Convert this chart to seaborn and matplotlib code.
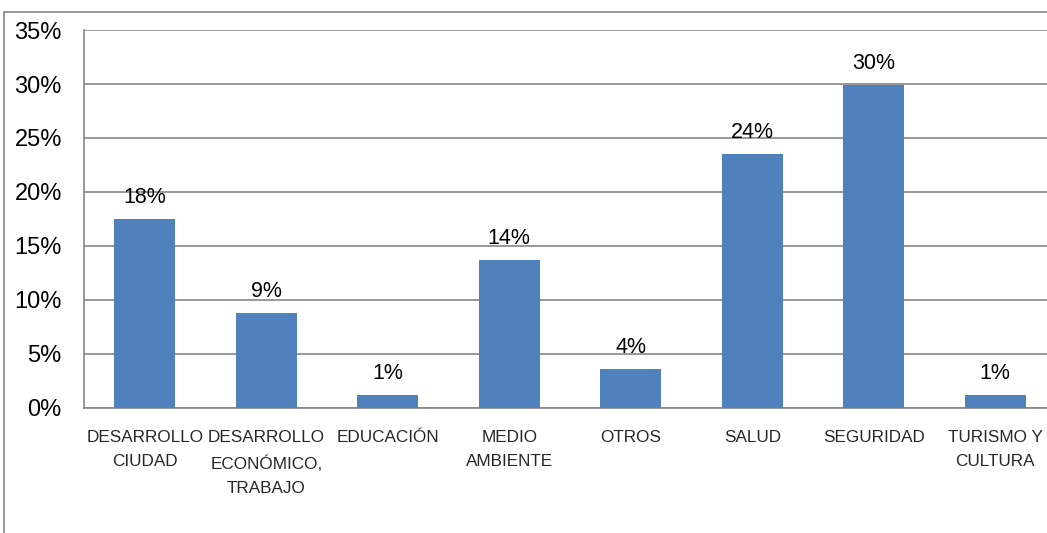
import matplotlib
matplotlib.use("Agg")
import matplotlib.pyplot as plt
import matplotlib.patches as patches
from matplotlib import font_manager
import seaborn as sns
import numpy as np
import pandas as pd

# datos
categorias = ["DESARROLLO\nCIUDAD", "DESARROLLO\nECONÓMICO,\nTRABAJO", "EDUCACIÓN",
              "MEDIO\nAMBIENTE", "OTROS", "SALUD", "SEGURIDAD", "TURISMO Y\nCULTURA"]
valores = [17.5, 8.8, 1.2, 13.7, 3.6, 23.5, 29.9, 1.2]
etiquetas = ["18%", "9%", "1%", "14%", "4%", "24%", "30%", "1%"]
ticks_y = [0, 5, 10, 15, 20, 25, 30, 35]

df = pd.DataFrame({"categoria": categorias, "valor": valores})

sns.set_theme(style="white")
plt.rcParams['font.family'] = ['Liberation Sans', 'DejaVu Sans']

nombres = {f.name for f in font_manager.fontManager.ttflist}
fuente_x = 'Liberation Sans Narrow' if 'Liberation Sans Narrow' in nombres else 'Liberation Sans'
tam_x = 14 if fuente_x == 'Liberation Sans Narrow' else 12.3

gris = "#868686"

fig = plt.figure(figsize=(10.47, 5.33), dpi=100)
ax = fig.add_axes([84 / 1047, 125 / 533, 972 / 1047, 378 / 533])

sns.barplot(data=df, x="categoria", y="valor", color="#4F81BD", width=0.5,
            saturation=1, linewidth=0, ax=ax, zorder=3)

ax.set_ylim(0, 35)
ax.set_xlim(-0.5, len(categorias) - 0.5)
ax.set_yticks(ticks_y)
ax.set_yticklabels([f"{t}%" for t in ticks_y], fontsize=17, color="black")
ax.yaxis.grid(True, color=gris, linewidth=1.2, zorder=0)
ax.set_axisbelow(True)

ax.set_xticks(range(len(categorias)))
ax.set_xticklabels(categorias, fontsize=tam_x, family=fuente_x, linespacing=1.75)
ax.set_xticks(np.arange(-0.5, len(categorias)), minor=True)
ax.tick_params(axis="x", which="major", length=0, pad=16)
ax.tick_params(axis="x", which="minor", length=7, width=1, color=gris, direction="out")
ax.tick_params(axis="y", length=8, width=1, color=gris, direction="out", pad=8)

for lado in ["top", "right"]:
    ax.spines[lado].set_visible(False)
for lado in ["left", "bottom"]:
    ax.spines[lado].set_color(gris)
    ax.spines[lado].set_linewidth(1.2)

ax.bar_label(ax.containers[0], labels=etiquetas, padding=8, fontsize=15.5, color="black")

ax.set_xlabel("")
ax.set_ylabel("")

# marco exterior del gráfico
fig.patches.append(patches.Rectangle((4 / 1047, -0.1), 1.2, (533 - 12) / 533 + 0.1,
                                     transform=fig.transFigure, fill=False,
                                     edgecolor=gris, linewidth=1.2))

fig.savefig("out.png", dpi=100)
